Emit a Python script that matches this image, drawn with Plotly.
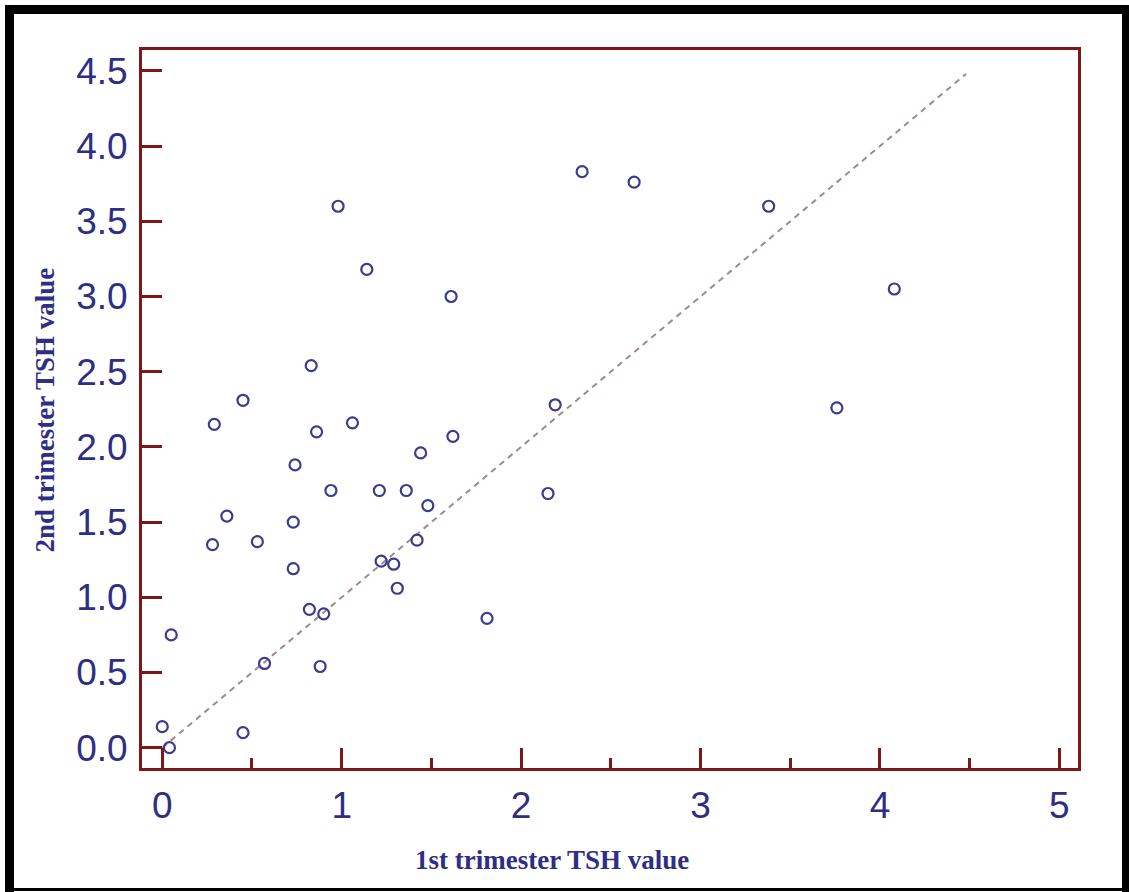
import plotly.graph_objects as go

# Data
tsh_1st = [0.04, 0.00, 0.05, 0.45, 0.57, 0.28, 0.36, 0.29, 0.45, 0.53,
           0.73, 0.73, 0.74, 0.83, 0.86, 0.82, 0.90, 0.88, 0.94, 0.98,
           1.06, 1.14, 1.21, 1.22, 1.29, 1.31, 1.36, 1.44, 1.42, 1.48,
           1.61, 1.62, 1.81, 2.15, 2.19, 2.34, 2.63, 3.38, 3.76, 4.08]
tsh_2nd = [0.00, 0.14, 0.75, 0.10, 0.56, 1.35, 1.54, 2.15, 2.31, 1.37,
           1.19, 1.50, 1.88, 2.54, 2.10, 0.92, 0.89, 0.54, 1.71, 3.60,
           2.16, 3.18, 1.71, 1.24, 1.22, 1.06, 1.71, 1.96, 1.38, 1.61,
           3.00, 2.07, 0.86, 1.69, 2.28, 3.83, 3.76, 3.60, 2.26, 3.05]

# line of identity
ident_x = [0.0, 4.48]
ident_y = [0.0, 4.48]

x_ticks = [0, 1, 2, 3, 4, 5]
y_ticks = [0.0, 0.5, 1.0, 1.5, 2.0, 2.5, 3.0, 3.5, 4.0, 4.5]

NAVY = "#2e2e85"
AXIS = "#7e1818"

fig = go.Figure()
fig.add_trace(go.Scatter(
    x=ident_x, y=ident_y, mode="lines",
    line=dict(color="#a08a8a", width=2, dash="6px,5px"),
    hoverinfo="skip", showlegend=False))
fig.add_trace(go.Scatter(
    x=tsh_1st, y=tsh_2nd, mode="markers",
    marker=dict(symbol="circle-open", size=11, color="#3c3c8c",
                line=dict(width=2.2, color="#3c3c8c")),
    showlegend=False))

fig.update_layout(
    width=1129, height=892,
    margin=dict(l=142, r=51, t=50, b=124),
    paper_bgcolor="white", plot_bgcolor="white",
    xaxis=dict(
        range=[-0.113, 5.104], tickvals=x_ticks,
        ticktext=[str(v) for v in x_ticks],
        ticks="inside", ticklen=20, tickwidth=3, tickcolor=AXIS,
        minor=dict(ticks="inside", ticklen=10, tickwidth=3, tickcolor=AXIS, dtick=0.5, tick0=0, showgrid=False),
        showgrid=False, zeroline=False,
        showline=True, linecolor=AXIS, linewidth=3, mirror=True,
        tickfont=dict(family="Liberation Sans, Arial", size=37, color=NAVY),
        ticklabelstandoff=3,
    ),
    yaxis=dict(
        range=[-0.135, 4.639], tickvals=y_ticks,
        ticktext=[f"{v:.1f}" for v in y_ticks],
        ticks="inside", ticklen=20, tickwidth=3, tickcolor=AXIS,
        showgrid=False, zeroline=False,
        showline=True, linecolor=AXIS, linewidth=3, mirror=True,
        tickfont=dict(family="Liberation Sans, Arial", size=37, color=NAVY),
        ticklabelstandoff=4,
    ),
    annotations=[
        dict(text="<b>1st trimester TSH value</b>", xref="paper", yref="paper",
             x=0.4375, y=-0.128, showarrow=False, xanchor="center", yanchor="middle",
             font=dict(family="Liberation Serif, Times New Roman", size=27, color=NAVY)),
        dict(text="<b>2nd trimester TSH value</b>", xref="paper", yref="paper",
             x=-0.1036, y=0.498, showarrow=False, xanchor="center", yanchor="middle",
             textangle=-90,
             font=dict(family="Liberation Serif, Times New Roman", size=27, color=NAVY)),
    ],
)

# outer black frame (paper coordinates relative to plot area)
W, H = 936.0, 718.0
def px(xp):
    return (xp - 142) / W
def py(yp):
    return (768 - yp) / H

frame = [
    (px(5), py(9.5), px(1129), py(9.5), 9),     # top
    (px(9.5), py(5), px(9.5), py(892), 9),      # left
    (px(1125.5), py(5), px(1125.5), py(892), 7),  # right
    (px(5), py(889.5), px(1129), py(889.5), 3),   # bottom
]
for x0, y0, x1, y1, w in frame:
    fig.add_shape(type="line", xref="paper", yref="paper",
                  x0=x0, y0=y0, x1=x1, y1=y1,
                  line=dict(color="black", width=w), layer="above")

fig.write_html("out.html")
